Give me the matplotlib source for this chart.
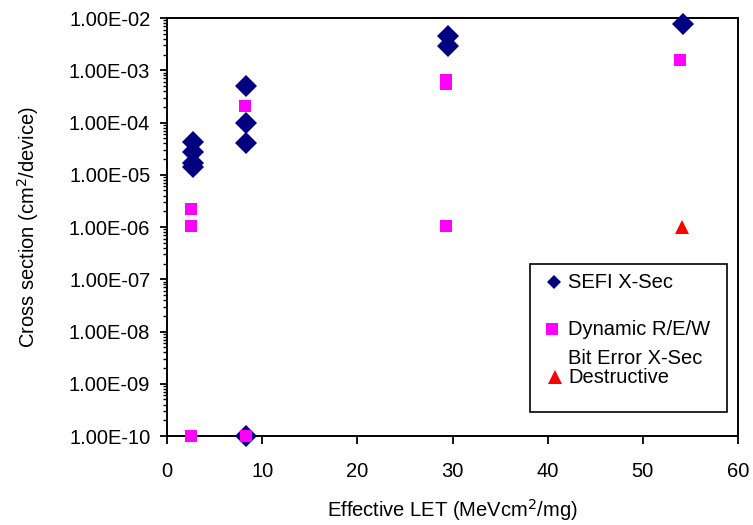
import matplotlib.pyplot as plt
from matplotlib.ticker import FuncFormatter, LogLocator, NullFormatter, MultipleLocator
from matplotlib.patches import Rectangle

plt.rcParams['font.family'] = ['Liberation Sans', 'DejaVu Sans']

# SEFI cross section
sefi_let = [2.7, 2.7, 2.7, 2.7, 8.3, 8.3, 8.3, 8.3, 29.5, 29.5, 54.2]
sefi_xs = [4.3e-5, 2.7e-5, 1.7e-5, 1.4e-5, 5.0e-4, 1.0e-4, 4.0e-5, 1.0e-10, 4.5e-3, 2.9e-3, 7.8e-3]

# Dynamic R/E/W bit error cross section
bit_let = [2.5, 2.5, 2.5, 8.2, 8.3, 29.3, 29.3, 29.3, 53.9]
bit_xs = [2.2e-6, 1.05e-6, 1.0e-10, 2.1e-4, 1.0e-10, 6.6e-4, 5.5e-4, 1.05e-6, 1.6e-3]

# Destructive
dest_let = [54.1]
dest_xs = [1.0e-6]

fs = 14.5

fig = plt.figure(figsize=(7.53, 5.25), dpi=100)
ax = fig.add_axes([0.2218, 0.1695, 0.7583, 0.7962])

ax.plot(sefi_let, sefi_xs, 'D', color='#000080', markersize=10.8, markeredgewidth=0, clip_on=False, zorder=3)
ax.plot(bit_let, bit_xs, 's', color='#FF00FF', markersize=8.6, markeredgewidth=0, clip_on=False, zorder=4)
ax.plot(dest_let, dest_xs, '^', color='#FF0000', markersize=10, markeredgewidth=0, clip_on=False, zorder=4)

ax.set_yscale('log')
ax.set_ylim(1e-10, 1e-2)
ax.set_xlim(0, 60)
ax.xaxis.set_major_locator(MultipleLocator(10))
ax.yaxis.set_major_locator(LogLocator(base=10, numticks=20))
ax.yaxis.set_minor_locator(LogLocator(base=10, subs=range(2, 10), numticks=20))
ax.yaxis.set_minor_formatter(NullFormatter())
ax.yaxis.set_major_formatter(FuncFormatter(lambda v, p: f"{v:.2E}"))

ax.tick_params(axis='y', which='major', direction='out', length=5, width=1.3, labelsize=fs, pad=7)
ax.tick_params(axis='x', which='major', direction='out', length=6, width=1.3, labelsize=fs, pad=13)
ax.tick_params(axis='y', which='minor', direction='out', length=3, width=1)
for s in ax.spines.values():
    s.set_linewidth(1.4)

ax.set_xlabel('Effective LET (MeVcm$^2$/mg)', fontsize=fs, labelpad=11)
ax.set_ylabel('Cross section (cm$^2$/device)', fontsize=fs, labelpad=20)

# legend box drawn in axes coordinates
tr = ax.transAxes
ax.add_patch(Rectangle((0.636, 0.057), 0.345, 0.354, transform=tr, fill=True,
                       facecolor='white', edgecolor='black', linewidth=1.2, zorder=5))
ax.plot([0.677], [0.368], 'D', color='#000080', markersize=7, markeredgewidth=0, transform=tr, zorder=6, clip_on=False)
ax.text(0.703, 0.368, 'SEFI X-Sec', transform=tr, fontsize=fs, va='center', zorder=6)
ax.plot([0.674], [0.256], 's', color='#FF00FF', markersize=8.5, markeredgewidth=0, transform=tr, zorder=6, clip_on=False)
ax.text(0.703, 0.254, 'Dynamic R/E/W', transform=tr, fontsize=fs, va='center', zorder=6)
ax.text(0.703, 0.186, 'Bit Error X-Sec', transform=tr, fontsize=fs, va='center', zorder=6)
ax.plot([0.679], [0.141], '^', color='#FF0000', markersize=10, markeredgewidth=0, transform=tr, zorder=6, clip_on=False)
ax.text(0.703, 0.141, 'Destructive', transform=tr, fontsize=fs, va='center', zorder=6)

fig.savefig('out.png', dpi=100)
